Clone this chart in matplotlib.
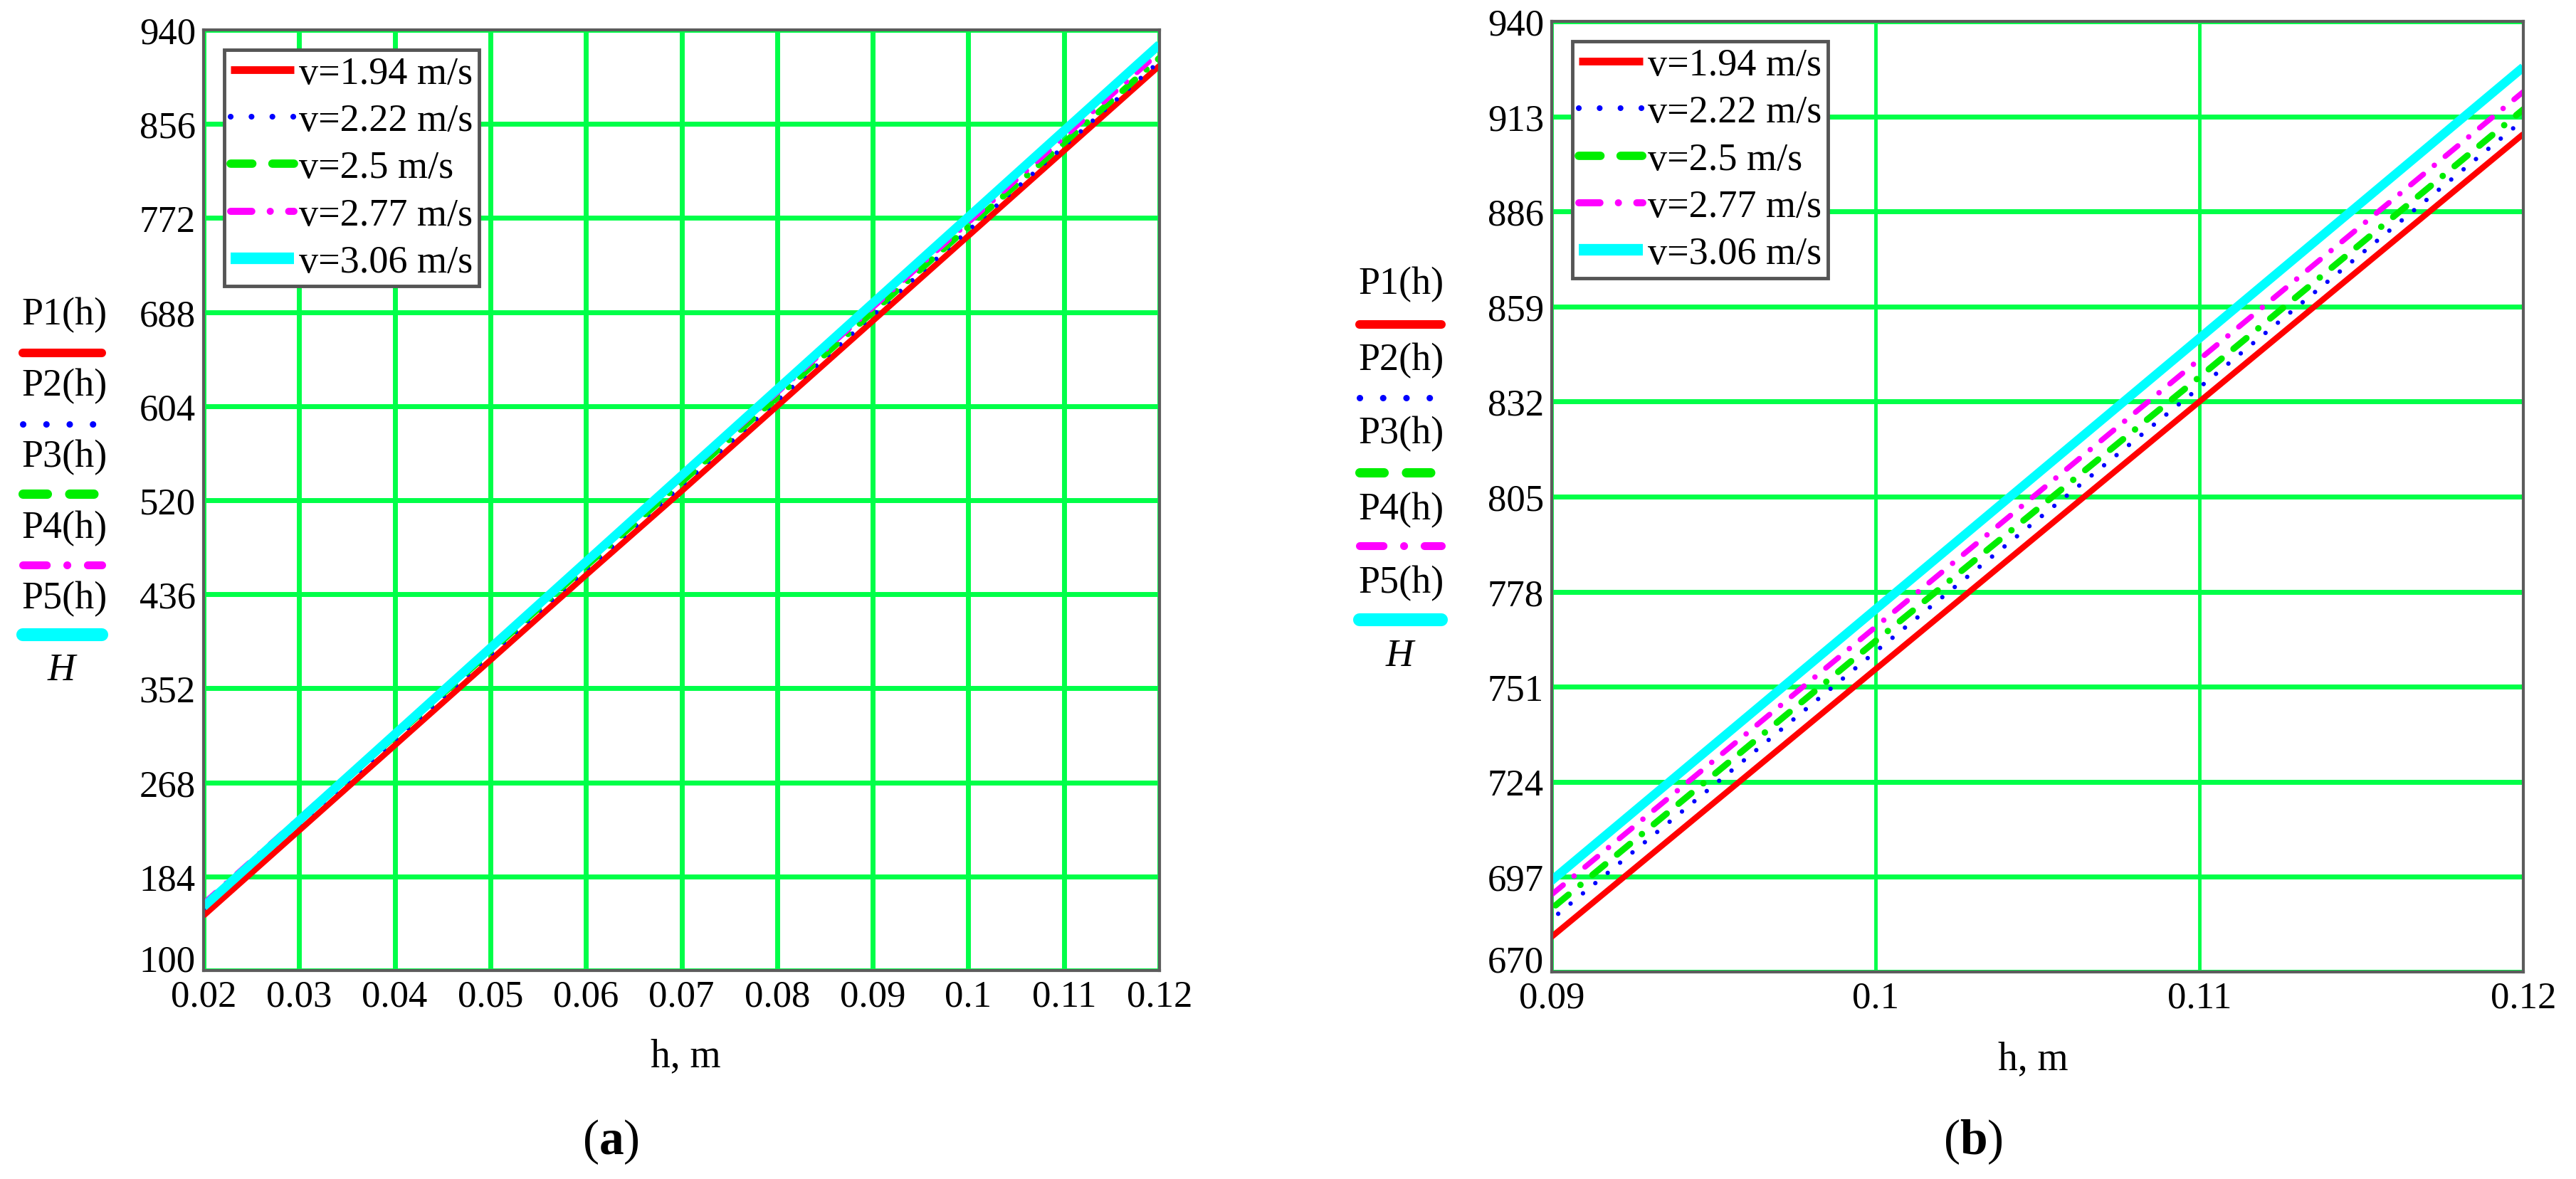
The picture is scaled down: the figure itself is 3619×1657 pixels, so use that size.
import matplotlib.pyplot as plt
from matplotlib.lines import Line2D

plt.rcParams['font.family'] = ['Liberation Serif', 'DejaVu Serif']
plt.rcParams['mathtext.fontset'] = 'custom'
plt.rcParams['mathtext.rm'] = 'Liberation Serif'
plt.rcParams['mathtext.bf'] = 'Liberation Serif:bold'
plt.rcParams['mathtext.it'] = 'Liberation Serif:italic'

# data
h = [0.02, 0.03, 0.04, 0.05, 0.06, 0.07, 0.08, 0.09, 0.10, 0.11, 0.12]
P1 = [149, 225, 301, 377, 453, 528, 604, 680, 756, 832, 908]
P2 = [155, 231, 306, 382, 458, 533, 609, 685, 761, 836, 912]
P3 = [158, 234, 309, 385, 461, 536, 612, 688, 764, 839, 915]
P4 = [160, 236, 312, 388, 464, 540, 616, 692, 768, 844, 920]
P5 = [157, 234, 311, 388, 465, 542, 619, 696, 773, 850, 927]
series = [P1, P2, P3, P4, P5]
legend_labels = ['v=1.94 m/s', 'v=2.22 m/s', 'v=2.5 m/s', 'v=2.77 m/s', 'v=3.06 m/s']
side_labels = ['P1(h)', 'P2(h)', 'P3(h)', 'P4(h)', 'P5(h)']

xticks_a = [0.02, 0.03, 0.04, 0.05, 0.06, 0.07, 0.08, 0.09, 0.1, 0.11, 0.12]
xtick_labels_a = ['0.02', '0.03', '0.04', '0.05', '0.06', '0.07', '0.08', '0.09', '0.1', '0.11', '0.12']
yticks_a = [100, 184, 268, 352, 436, 520, 604, 688, 772, 856, 940]
xticks_b = [0.09, 0.1, 0.11, 0.12]
xtick_labels_b = ['0.09', '0.1', '0.11', '0.12']
yticks_b = [670, 697, 724, 751, 778, 805, 832, 859, 886, 913, 940]

# line styles
styles = [
    dict(color='#ff0000', lw=6, ls='-'),
    dict(color='#0000ff', lw=4.5, ls=(0, (0.01, 3.6))),
    dict(color='#00ee00', lw=6.5, ls=(0, (2.6, 2.4, 2.6, 2.4, 0.01, 2.4))),
    dict(color='#ff00ff', lw=5.5, ls=(0, (3.0, 2.6, 0.01, 2.6))),
    dict(color='#00ffff', lw=9, ls='-'),
]

W, H = 3619, 1658
fx = lambda px: px / W
fy = lambda py: 1 - py / H

fig = plt.figure(figsize=(W / 100, H / 100), dpi=100)
ax_a = fig.add_axes([fx(286), fy(1365), fx(1629 - 286), (1365 - 43) / H])
ax_b = fig.add_axes([fx(2180), fy(1367), fx(3545 - 2180), (1367 - 31) / H])

grid_c = '#00ff48'
for ax, xt, xl, yt, glw in [(ax_a, xticks_a, xtick_labels_a, yticks_a, (5, 5)),
                            (ax_b, xticks_b, xtick_labels_b, yticks_b, (3.5, 5))]:
    lines = []
    for y, st in zip(series, styles):
        ln, = ax.plot(h, y, color=st['color'], lw=st['lw'], ls=st['ls'],
                      dash_capstyle='round', solid_capstyle='butt', zorder=3)
        lines.append(ln)
    ax.set_xlim(xt[0], xt[-1])
    ax.set_ylim(yt[0], yt[-1])
    ax.set_xticks(xt)
    ax.set_xticklabels(xl)
    ax.set_yticks(yt)
    ax.get_yticklabels()[0].set_verticalalignment('baseline')
    ax.set_axisbelow(True)
    ax.xaxis.grid(True, color=grid_c, lw=glw[0])
    ax.yaxis.grid(True, color=grid_c, lw=glw[1])
    ax.tick_params(length=0, labelsize=38, pad=8)
    ax.tick_params(axis='x', pad=9)
    for s in ax.spines.values():
        s.set_color('#5c5c5c')
        s.set_linewidth(3)
        s.set_zorder(4)
    leg = ax.legend(lines, legend_labels, loc='upper left',
                    bbox_to_anchor=(0.0216, 0.979), borderaxespad=0,
                    fancybox=False, edgecolor='#555555', framealpha=1,
                    prop={'family': 'Liberation Serif', 'size': 39},
                    handlelength=1.65, handletextpad=0.13, labelspacing=0.29,
                    borderpad=0.16)
    leg.get_frame().set_linewidth(3.5)
    for lh in leg.get_lines():
        lh.set_linewidth(lh.get_linewidth() * 1.3)

# side labels (Mathcad style y-axis label)
side_pos = [
    (30, 143, [443, 543, 643, 743, 842], [497, 597, 695, 795, 893], 943),
    (1908, 2025, [400, 507, 610, 717, 820], [457, 560, 665, 768, 872], 923),
]
for x0, x1, ty, ly, hy in side_pos:
    for lab, st, yt_, yl_ in zip(side_labels, styles, ty, ly):
        fig.text(fx(x0), fy(yt_), lab, fontsize=39, ha='left', va='center')
        fig.add_artist(Line2D([fx(x0 + 2), fx(x1)], [fy(yl_), fy(yl_)],
                              color=st['color'], lw=st['lw'] * 1.45, ls=st['ls'],
                              dash_capstyle='round', solid_capstyle='round'))
    fig.text(fx((x0 + x1) / 2), fy(hy), 'H', fontsize=39, style='italic',
             ha='center', va='center')

# axis titles and captions
fig.text(fx(963), fy(1485), 'h, m', fontsize=40, ha='center', va='center')
fig.text(fx(2856), fy(1489), 'h, m', fontsize=40, ha='center', va='center')
fig.text(fx(858), fy(1605), r'($\mathbf{a}$)', fontsize=50, ha='center', va='center')
fig.text(fx(2772), fy(1605), r'($\mathbf{b}$)', fontsize=50, ha='center', va='center')

fig.savefig('out.png', dpi=100, facecolor='white')
